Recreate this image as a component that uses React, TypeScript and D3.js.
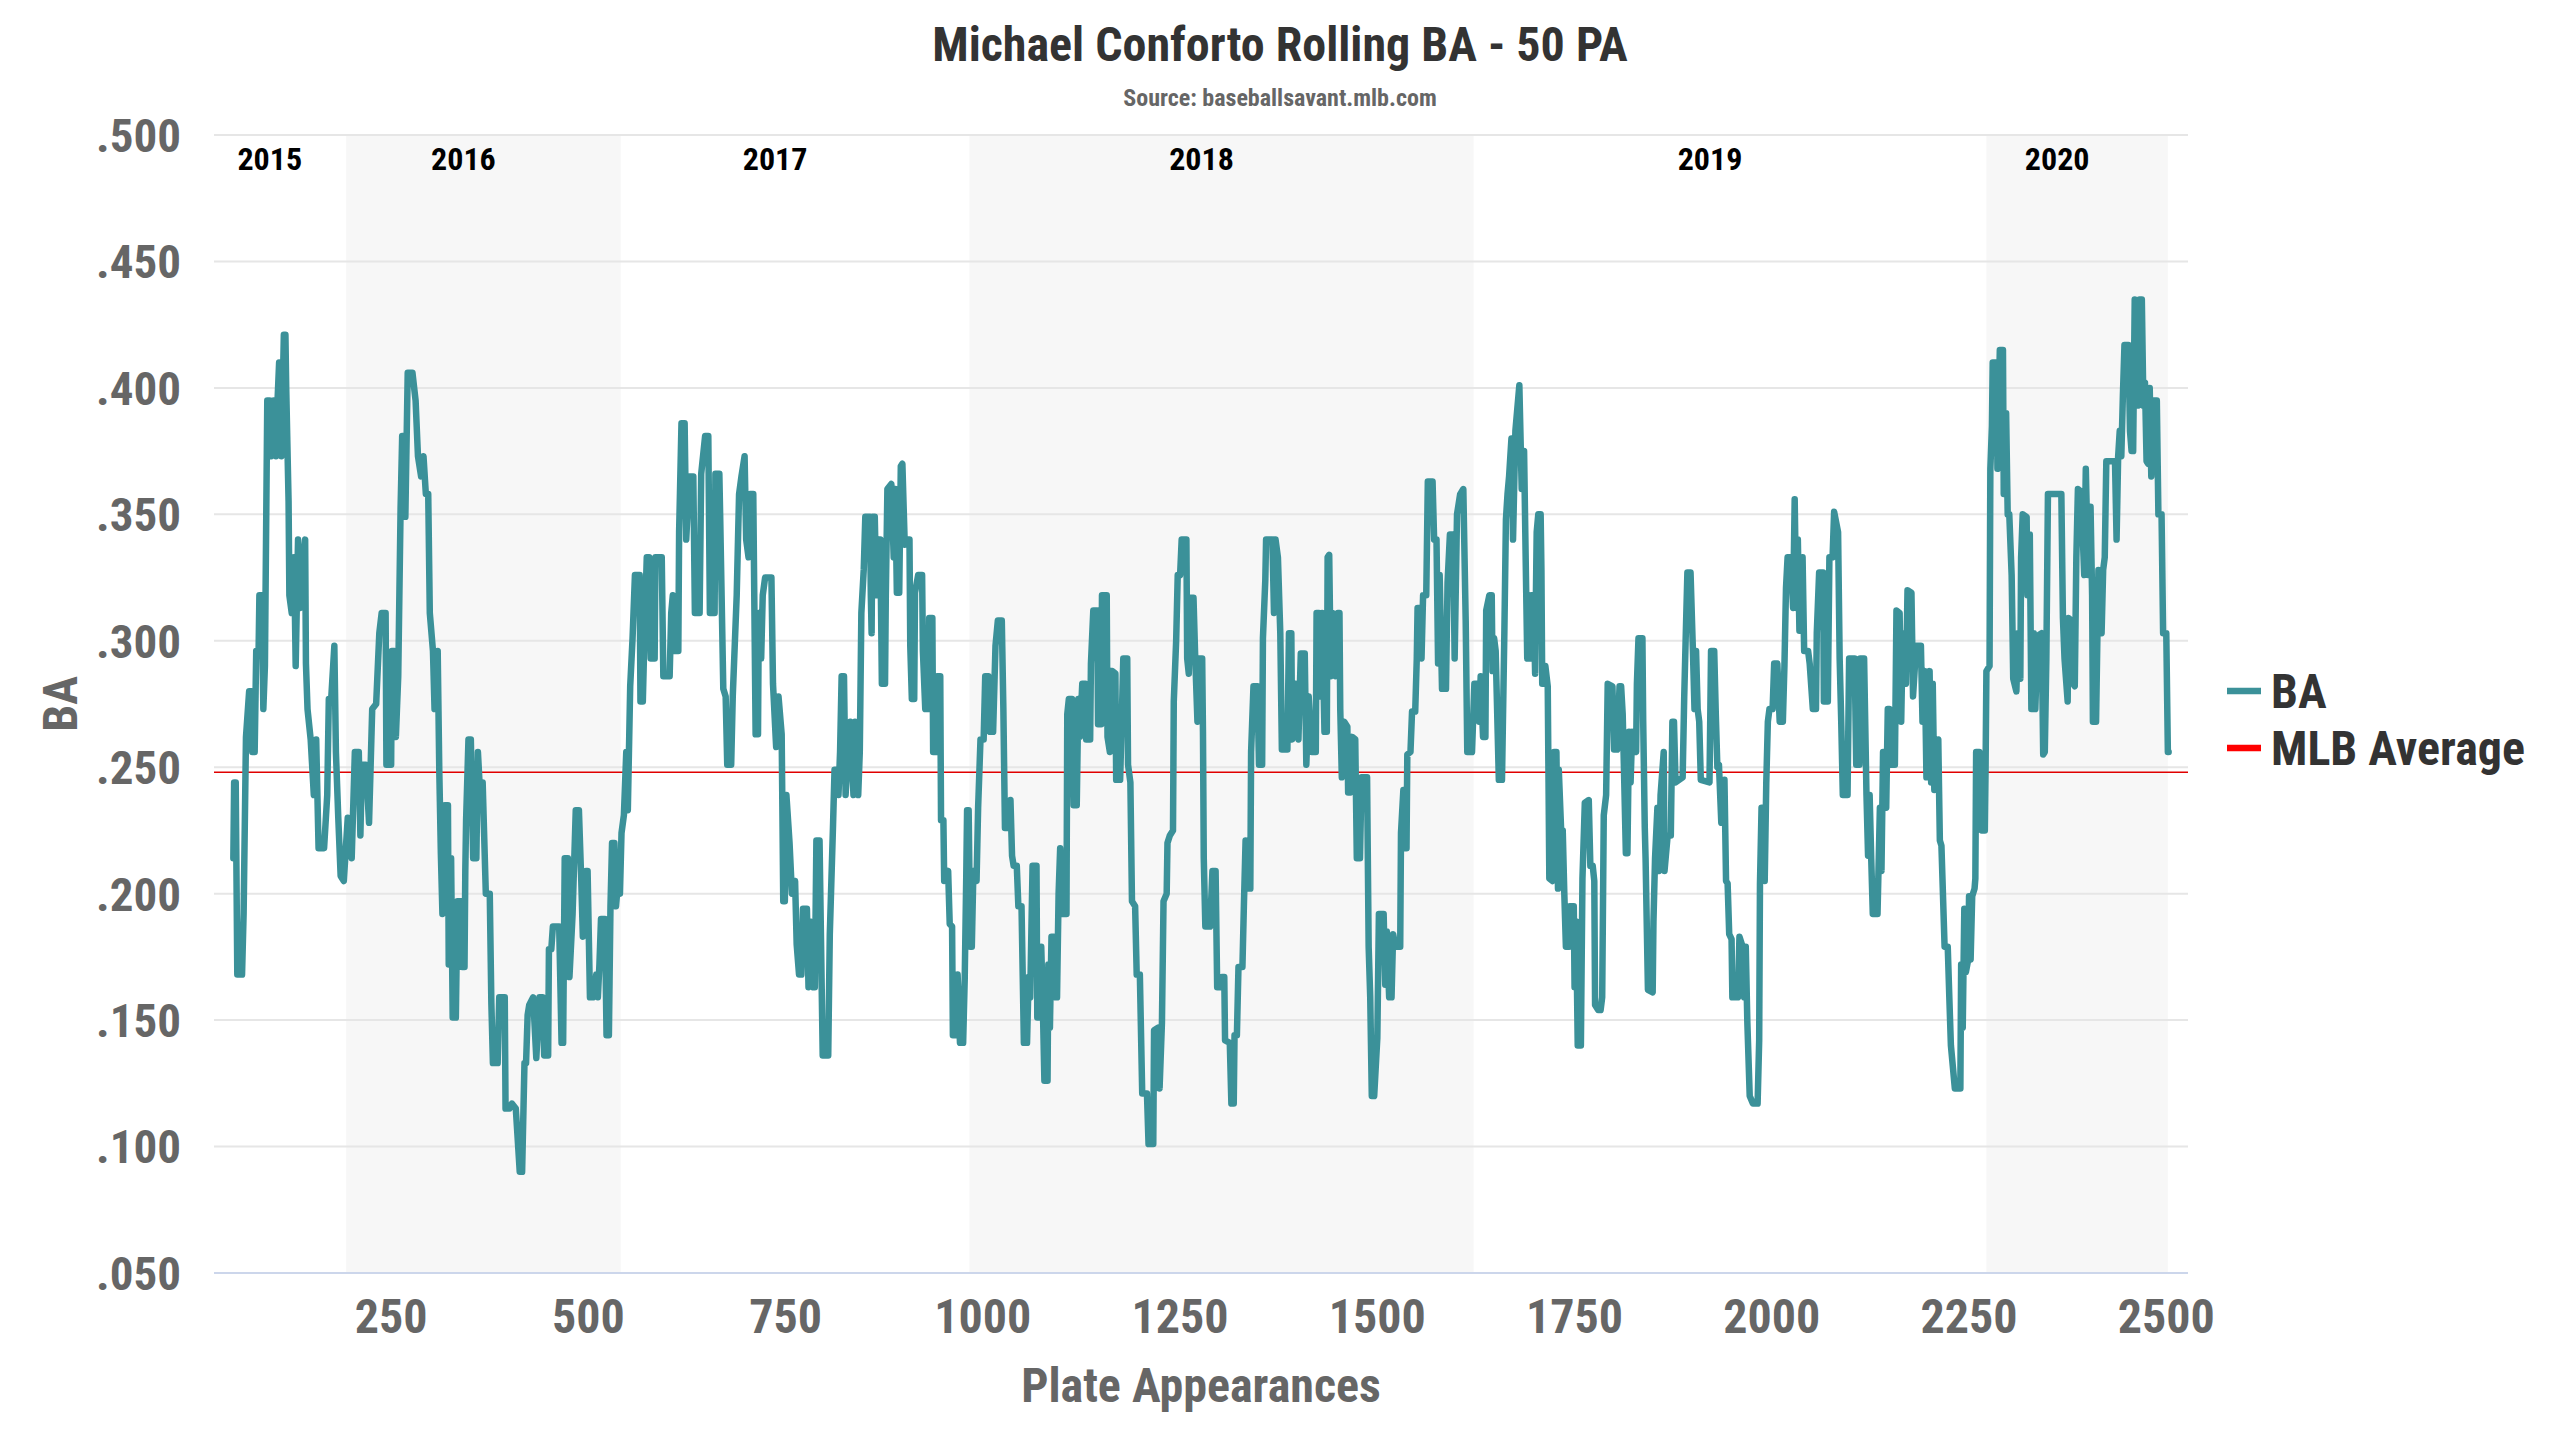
import React, { useEffect, useRef } from "react";
import * as d3 from "d3";

type Pt = [number, number];

const season2015: Pt[] = [[50,.214],[51,.244],[53,.244],[55,.168],[61,.168],[63,.192],[66,.262],[70,.280],[73,.280],[74,.256],[77,.256],[79,.296],[82,.296],[83,.318],[86,.318],[88,.273],[90,.290],[93,.395],[96,.395],[98,.373],[101,.395],[104,.373],[106,.395],[108,.410],[111,.373],[114,.421],[116,.421],[117,.400],[120,.355],[121,.318],[124,.311],[127,.333],[129,.290],[132,.340],[135,.313],[139,.333],[141,.340],[142,.291],[144,.273],[148,.261],[152,.239],[155,.261],[158,.218],[165,.218],[169,.239],[171,.277],[174,.277],[178,.298],[180,.256],[183,.230],[186,.207],[190,.205]];

const season2016: Pt[] = [[195,.230],[200,.214],[204,.256],[209,.256],[211,.223],[213,.251],[218,.251],[222,.228],[226,.273],[231,.275],[235,.303],[238,.311],[243,.311],[244,.251],[250,.251],[251,.296],[254,.296],[256,.262],[259,.286],[262,.353],[264,.381],[267,.381],[268,.349],[271,.406],[277,.406],[281,.395],[284,.373],[288,.365],[291,.373],[294,.358],[297,.358],[299,.311],[303,.296],[305,.273],[309,.296],[311,.249],[313,.216],[315,.192],[318,.235],[322,.235],[323,.172],[326,.214],[328,.151],[332,.151],[334,.197],[339,.197],[340,.171],[343,.171],[344,.209],[345,.229],[348,.261],[351,.261],[354,.214],[358,.214],[360,.256],[362,.244],[366,.244],[370,.200],[375,.200],[377,.157],[379,.133],[385,.133],[387,.159],[394,.159],[395,.115],[400,.115],[403,.117],[408,.115],[413,.090],[416,.090],[419,.133],[421,.133],[423,.152],[425,.156],[430,.159],[434,.135],[438,.159],[442,.159],[444,.136],[449,.136],[450,.178],[453,.178],[455,.187],[463,.187],[466,.141],[468,.141],[470,.214],[474,.214],[476,.167],[480,.192],[484,.233],[488,.233],[491,.205],[493,.183],[497,.209],[499,.209],[502,.159],[506,.159],[510,.168],[512,.159],[514,.172],[516,.190],[521,.190],[523,.144],[526,.144],[528,.195],[530,.220],[533,.220],[535,.195],[538,.206],[540,.200]];

const season2017: Pt[] = [[542,.224],[545,.231],[548,.256],[550,.233],[553,.282],[556,.301],[559,.326],[565,.326],[566,.276],[569,.276],[571,.301],[574,.333],[577,.333],[579,.293],[584,.293],[585,.333],[593,.333],[595,.286],[603,.286],[605,.311],[607,.318],[609,.296],[614,.296],[615,.343],[618,.386],[622,.386],[624,.340],[628,.365],[633,.365],[635,.311],[641,.311],[643,.366],[648,.381],[652,.381],[654,.311],[656,.358],[657,.311],[660,.311],[661,.366],[666,.366],[667,.350],[671,.281],[674,.278],[676,.251],[681,.251],[683,.278],[688,.318],[691,.358],[694,.365],[698,.373],[700,.340],[703,.333],[705,.358],[709,.358],[712,.263],[715,.263],[716,.311],[719,.293],[721,.318],[724,.325],[732,.325],[734,.283],[738,.258],[741,.278],[745,.263],[747,.197],[749,.197],[751,.239],[755,.220],[758,.200],[762,.205],[764,.180],[767,.168],[770,.168],[772,.194],[777,.194],[779,.163],[781,.189],[785,.163],[787,.163],[789,.221],[793,.221],[797,.136],[804,.136],[806,.184],[810,.226],[812,.249],[815,.249],[817,.239],[819,.256],[821,.286],[824,.286],[826,.239],[829,.256],[832,.268],[836,.239],[838,.268],[842,.239],[844,.256],[846,.311],[849,.328],[851,.349],[857,.349],[858,.318],[859,.303],[860,.349],[863,.349],[865,.318],[868,.340],[870,.340],[872,.283],[876,.283],[877,.318],[879,.360],[884,.362],[887,.333],[889,.360],[891,.319],[894,.319],[896,.369],[898,.370],[901,.338],[903,.340],[907,.340],[908,.298],[910,.277],[913,.277],[914,.319],[918,.326],[923,.326],[924,.296],[927,.273],[931,.273],[932,.309],[936,.309],[937,.256],[941,.256],[942,.286],[946,.286],[947,.229],[950,.229],[951,.205],[956,.209],[958,.188],[961,.187],[962,.144],[967,.144],[968,.168],[971,.141],[975,.141],[977,.166],[979,.208],[980,.233],[982,.233]];

const season2018: Pt[] = [[984,.179],[986,.179],[988,.209],[992,.205],[994,.234],[997,.261],[1001,.261],[1003,.286],[1007,.286],[1009,.264],[1013,.264],[1016,.298],[1019,.308],[1024,.308],[1026,.273],[1028,.226],[1032,.226],[1035,.237],[1037,.215],[1039,.211],[1043,.211],[1045,.195],[1049,.195],[1052,.141],[1056,.141],[1058,.167],[1060,.159],[1063,.211],[1068,.211],[1069,.151],[1073,.151],[1074,.179],[1076,.156],[1078,.126],[1082,.126],[1083,.172],[1085,.147],[1087,.183],[1090,.183],[1092,.159],[1094,.159],[1096,.200],[1098,.218],[1100,.192],[1106,.192],[1107,.271],[1109,.277],[1113,.277],[1115,.235],[1119,.235],[1121,.277],[1123,.262],[1126,.283],[1130,.283],[1131,.261],[1136,.261],[1137,.291],[1140,.312],[1145,.312],[1146,.267],[1150,.267],[1151,.318],[1157,.318],[1158,.262],[1161,.256],[1162,.288],[1164,.288],[1168,.287],[1169,.245],[1174,.245],[1176,.268],[1178,.293],[1183,.293],[1184,.251],[1187,.244],[1189,.197],[1193,.195],[1195,.168],[1199,.168],[1202,.121],[1208,.121],[1210,.101],[1216,.101],[1217,.146],[1222,.147],[1224,.123],[1227,.149],[1229,.197],[1233,.200],[1234,.220],[1237,.223],[1241,.225],[1242,.276],[1245,.300],[1247,.326],[1250,.326],[1252,.340],[1258,.340],[1259,.293],[1261,.287],[1263,.317],[1267,.317],[1269,.295],[1272,.268],[1274,.293],[1278,.293],[1279,.264],[1280,.214],[1282,.187],[1288,.187],[1291,.209],[1295,.209],[1297,.163],[1301,.163],[1303,.167],[1306,.167],[1307,.142],[1313,.141],[1315,.117],[1318,.117],[1319,.144],[1322,.144],[1324,.171],[1329,.171],[1331,.197],[1333,.221],[1335,.202],[1339,.202],[1340,.256],[1343,.282],[1348,.282],[1350,.251],[1354,.251],[1355,.301],[1358,.324],[1359,.340],[1367,.340],[1369,.311],[1371,.340],[1374,.333],[1377,.303],[1379,.257],[1386,.257],[1388,.303],[1391,.303],[1392,.261],[1396,.283],[1400,.261],[1403,.295],[1408,.295],[1410,.251],[1413,.278],[1417,.256],[1422,.256],[1423,.311],[1426,.311],[1427,.278],[1430,.311],[1433,.264],[1436,.264],[1437,.333],[1439,.334],[1441,.286],[1443,.311],[1447,.286],[1450,.311],[1452,.311],[1453,.273],[1455,.246],[1458,.268],[1462,.266],[1463,.240],[1466,.240],[1468,.262],[1472,.261],[1474,.214],[1478,.214],[1480,.246],[1487,.246],[1489,.179],[1491,.159],[1493,.120],[1496,.120],[1500,.143],[1502,.192],[1508,.192],[1510,.164],[1512,.185],[1515,.159],[1518,.159],[1520,.184],[1523,.179],[1529,.179],[1530,.224],[1533,.241],[1535,.218],[1537,.218],[1538,.255],[1542,.256],[1544,.272],[1548,.272],[1550,.293],[1551,.313],[1555,.313],[1556,.293],[1558,.318],[1562,.318],[1564,.363],[1570,.363],[1572,.340],[1575,.340],[1577,.291],[1579,.326],[1582,.281],[1587,.281],[1589,.323],[1592,.342],[1596,.342],[1598,.293],[1601,.350],[1605,.358],[1609,.360],[1612,.308],[1614,.256],[1620,.256]];

const season2019: Pt[] = [[1623,.283],[1627,.283],[1629,.268],[1631,.286],[1634,.262],[1637,.262],[1638,.312],[1642,.318],[1645,.318],[1646,.288],[1648,.301],[1650,.296],[1654,.245],[1658,.245],[1661,.303],[1663,.348],[1665,.358],[1667,.365],[1670,.380],[1672,.340],[1675,.383],[1680,.401],[1683,.360],[1686,.375],[1688,.333],[1690,.293],[1694,.293],[1695,.318],[1698,.318],[1700,.287],[1701,.318],[1702,.343],[1704,.350],[1707,.350],[1708,.328],[1709,.283],[1712,.283],[1713,.290],[1716,.282],[1718,.206],[1722,.205],[1724,.256],[1727,.256],[1729,.202],[1730,.249],[1733,.225],[1735,.225],[1737,.200],[1739,.179],[1743,.179],[1744,.195],[1749,.195],[1750,.163],[1752,.189],[1754,.140],[1758,.140],[1760,.206],[1763,.236],[1768,.237],[1770,.211],[1773,.211],[1775,.205],[1776,.156],[1780,.154],[1783,.154],[1785,.159],[1787,.231],[1790,.239],[1792,.283],[1798,.282],[1800,.257],[1804,.257],[1807,.282],[1809,.282],[1811,.271],[1813,.244],[1815,.216],[1817,.216],[1819,.264],[1821,.244],[1823,.264],[1828,.256],[1829,.283],[1831,.301],[1836,.301],[1837,.268],[1839,.226],[1840,.214],[1843,.162],[1849,.161],[1850,.189],[1852,.214],[1855,.234],[1857,.209],[1859,.239],[1863,.256],[1864,.209],[1868,.223],[1872,.223],[1874,.268],[1876,.268],[1878,.244],[1887,.246],[1889,.278],[1891,.303],[1893,.327],[1897,.327],[1900,.296],[1902,.273],[1904,.296],[1906,.273],[1908,.268],[1910,.245],[1921,.244],[1923,.296],[1927,.296],[1929,.271],[1931,.250],[1933,.251],[1936,.228],[1938,.228],[1940,.245],[1942,.205],[1944,.204],[1946,.184],[1949,.182],[1950,.159],[1957,.159],[1959,.183],[1963,.179],[1965,.159],[1967,.179],[1969,.149],[1972,.120],[1976,.117],[1982,.117],[1984,.142],[1985,.204],[1987,.234],[1990,.234],[1991,.205],[1993,.244],[1995,.268],[1997,.273],[2001,.273],[2003,.291],[2007,.291],[2010,.268],[2014,.268],[2016,.290],[2018,.321],[2020,.333],[2024,.333],[2027,.313],[2029,.356],[2031,.313],[2033,.340],[2035,.304],[2039,.333],[2041,.296],[2046,.296],[2048,.291],[2052,.273],[2056,.273],[2057,.303],[2060,.327],[2065,.327],[2066,.276],[2071,.276],[2073,.333],[2077,.333],[2079,.351],[2084,.343],[2086,.293],[2088,.268],[2090,.239],[2096,.239],[2098,.293],[2105,.293],[2107,.251],[2111,.251],[2112,.293],[2117,.293],[2120,.239],[2122,.215],[2124,.239],[2126,.214],[2128,.192],[2134,.192],[2137,.234],[2139,.209],[2141,.256],[2143,.256],[2145,.234],[2147,.273],[2149,.273],[2151,.251],[2156,.251],[2158,.312],[2162,.311],[2164,.268],[2166,.303],[2170,.283],[2172,.320],[2177,.319],[2179,.278],[2183,.298],[2189,.298],[2191,.268],[2194,.288],[2196,.246],[2200,.288],[2202,.244],[2204,.283],[2206,.241],[2211,.261],[2213,.221],[2215,.219],[2217,.199],[2219,.179],[2223,.179],[2225,.159],[2227,.140],[2232,.123],[2239,.123],[2240,.172],[2242,.147],[2244,.194],[2246,.169],[2249,.174],[2250,.199],[2252,.174],[2254,.199],[2257,.202],[2258,.206],[2259,.256],[2263,.256],[2266,.225],[2270,.225],[2271,.251]];

const season2020: Pt[] = [[2272,.288],[2276,.290],[2277,.368],[2279,.385],[2280,.410],[2285,.410],[2286,.368],[2289,.415],[2293,.415],[2294,.358],[2297,.390],[2299,.350],[2301,.350],[2304,.326],[2306,.285],[2310,.280],[2312,.303],[2315,.285],[2316,.333],[2318,.350],[2323,.349],[2324,.318],[2327,.342],[2329,.273],[2331,.273],[2332,.303],[2334,.273],[2337,.302],[2342,.303],[2344,.255],[2346,.256],[2348,.293],[2350,.358],[2367,.358],[2369,.309],[2371,.293],[2375,.276],[2376,.309],[2380,.308],[2382,.283],[2384,.282],[2386,.333],[2388,.360],[2392,.359],[2396,.326],[2398,.368],[2401,.326],[2404,.353],[2406,.318],[2407,.268],[2411,.268],[2414,.328],[2418,.303],[2420,.328],[2422,.333],[2424,.371],[2435,.371],[2437,.340],[2439,.373],[2441,.383],[2443,.373],[2445,.397],[2447,.417],[2452,.417],[2454,.383],[2456,.375],[2458,.375],[2460,.435],[2464,.393],[2466,.435],[2469,.435],[2471,.393],[2473,.402],[2475,.371],[2477,.370],[2479,.400],[2481,.365],[2483,.395],[2488,.395],[2490,.350],[2494,.350],[2496,.303],[2500,.303],[2502,.256],[2503,.256]];

const seasonYears = ["2015", "2016", "2017", "2018", "2019", "2020"];
const seasonStartPA = [50, 193, 541, 983, 1622, 2272];
const seasonEndPA = [193, 541, 983, 1622, 2272, 2502];
const shadedYears = ["2016", "2018", "2020"];
const mlbAverage = 0.248;
const yTickValues = [0.05, 0.1, 0.15, 0.2, 0.25, 0.3, 0.35, 0.4, 0.45, 0.5];
const xTickValues = [250, 500, 750, 1000, 1250, 1500, 1750, 2000, 2250, 2500];
const legendItems = ["BA", "MLB Average"];

const FONT = "'Roboto Condensed', 'Liberation Sans Narrow', 'Arial Narrow', 'DejaVu Sans Condensed', Roboto, sans-serif";
const BA_COLOR = "#3b9199";
const AVG_COLOR = "#ff0000";
const AVG_LINE_COLOR = "#e00000";

export default function App() {
  const ref = useRef<SVGSVGElement | null>(null);

  useEffect(() => {
    document.body.style.margin = "0";
    const svg = d3.select(ref.current);
    svg.selectAll("*").remove();

    const W = 2560, H = 1440;
    const left = 214, right = 2188, top = 135, bottom = 1273;
    const series = [...season2015, ...season2016, ...season2017, ...season2018, ...season2019, ...season2020];
    const [minX, maxX] = d3.extent(series, (d) => d[0]) as [number, number];
    const pad = (maxX - minX) * 0.01;
    const x = d3.scaleLinear().domain([minX - pad, maxX + pad]).range([left, right]);
    const y = d3.scaleLinear().domain([0.05, 0.5]).range([bottom, top]);

    svg.append("rect").attr("width", W).attr("height", H).attr("fill", "#ffffff");

    // plot bands
    seasonYears.forEach((yr, i) => {
      if (shadedYears.includes(yr)) {
        svg.append("rect")
          .attr("x", x(seasonStartPA[i]))
          .attr("y", top)
          .attr("width", x(seasonEndPA[i]) - x(seasonStartPA[i]))
          .attr("height", bottom - top)
          .attr("fill", "#f7f7f7");
      }
    });

    // grid
    svg.append("g").selectAll("line").data(yTickValues.slice(1)).join("line")
      .attr("x1", left).attr("x2", right)
      .attr("y1", (d) => y(d)).attr("y2", (d) => y(d))
      .attr("stroke", "#e6e6e6").attr("stroke-width", 2);

    // x axis line
    svg.append("line").attr("x1", left).attr("x2", right).attr("y1", bottom).attr("y2", bottom)
      .attr("stroke", "#ccd6eb").attr("stroke-width", 2);

    // year labels
    svg.append("g").selectAll("text").data(seasonYears).join("text")
      .attr("x", (_d, i) => x((seasonStartPA[i] + seasonEndPA[i]) / 2) - 20)
      .attr("y", 170)
      .attr("text-anchor", "middle")
      .attr("font-family", FONT).attr("font-weight", "bold").attr("font-size", 32)
      .attr("fill", "#000000")
      .text((d) => d);

    // MLB average
    svg.append("line").attr("x1", left).attr("x2", right)
      .attr("y1", y(mlbAverage)).attr("y2", y(mlbAverage))
      .attr("stroke", AVG_LINE_COLOR).attr("stroke-width", 1.6);

    // BA line
    const line = d3.line<Pt>().x((d) => x(d[0])).y((d) => y(d[1]));
    svg.append("path").attr("d", line(series) as string)
      .attr("fill", "none").attr("stroke", BA_COLOR).attr("stroke-width", 6.5)
      .attr("stroke-linejoin", "round").attr("stroke-linecap", "round");

    // y tick labels
    const fmt = (v: number) => d3.format(".3f")(v).replace(/^0/, "");
    svg.append("g").selectAll("text").data(yTickValues).join("text")
      .attr("x", 181).attr("y", (d) => y(d)).attr("dy", "0.36em")
      .attr("text-anchor", "end")
      .attr("font-family", FONT).attr("font-weight", "bold").attr("font-size", 47)
      .attr("fill", "#666666")
      .text((d) => fmt(d));

    // x tick labels
    svg.append("g").selectAll("text").data(xTickValues).join("text")
      .attr("x", (d) => x(d)).attr("y", 1333)
      .attr("text-anchor", "middle")
      .attr("font-family", FONT).attr("font-weight", "bold").attr("font-size", 48)
      .attr("fill", "#666666")
      .text((d) => String(d));

    // axis titles
    svg.append("text").attr("x", (left + right) / 2).attr("y", 1402)
      .attr("text-anchor", "middle")
      .attr("font-family", FONT).attr("font-weight", "bold").attr("font-size", 48)
      .attr("fill", "#666666").text("Plate Appearances");
    svg.append("text")
      .attr("transform", `translate(60,${(top + bottom) / 2}) rotate(-90)`)
      .attr("dy", "0.36em")
      .attr("text-anchor", "middle")
      .attr("font-family", FONT).attr("font-weight", "bold").attr("font-size", 48)
      .attr("fill", "#666666").text("BA");

    // title
    svg.append("text").attr("x", W / 2).attr("y", 61).attr("text-anchor", "middle")
      .attr("font-family", FONT).attr("font-weight", "bold").attr("font-size", 48)
      .attr("fill", "#333333").text("Michael Conforto Rolling BA - 50 PA");
    svg.append("text").attr("x", W / 2).attr("y", 106).attr("text-anchor", "middle")
      .attr("font-family", FONT).attr("font-weight", "bold").attr("font-size", 24)
      .attr("fill", "#666666").text("Source: baseballsavant.mlb.com");

    // legend
    const legendColors = [BA_COLOR, AVG_COLOR];
    const lg = svg.append("g");
    legendItems.forEach((name, i) => {
      const cy = 691 + i * 57;
      lg.append("line").attr("x1", 2227).attr("x2", 2261).attr("y1", cy).attr("y2", cy)
        .attr("stroke", legendColors[i]).attr("stroke-width", 6.5);
      lg.append("text").attr("x", 2271).attr("y", cy).attr("dy", "0.36em")
        .attr("font-family", FONT).attr("font-weight", "bold").attr("font-size", 48)
        .attr("fill", "#333333").text(name);
    });
  }, []);

  return <svg ref={ref} width={2560} height={1440} style={{ display: "block" }} />;
}
